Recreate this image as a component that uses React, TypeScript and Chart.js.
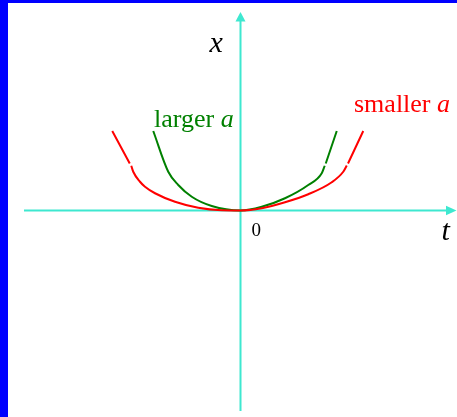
import React, { useEffect, useRef } from "react";
import { Chart, registerables } from "chart.js";

Chart.register(...registerables);

// Time values (t) and displacement (x) for the two curves; null marks a break in the stroke.
const smallerT = [-5.13, -4.43, -4.4, -4.37, -4.29, -4.02, -3.82, -3.42, -2.62, -1.69, -0.75, 0, 0.85, 1.78, 2.71, 3.65, 4.11, 4.25, 4.27, 4.3, 4.91];
const smallerX = [3.18, 1.88, null, 1.79, 1.55, 1.15, 0.95, 0.69, 0.35, 0.11, 0.01, 0, 0.09, 0.33, 0.65, 1.13, 1.55, 1.8, null, 1.88, 3.18];

const largerT = [-3.49, -2.89, -2.49, -1.95, -1.15, 0, 0.85, 1.78, 2.71, 3.25, 3.37, 3.39, 3.41, 3.85];
const largerX = [3.18, 1.55, 1.02, 0.55, 0.18, 0, 0.15, 0.49, 1.02, 1.49, 1.79, null, 1.88, 3.18];

// Plot window and axis extents in data units
const T_MIN = -9.62;
const T_MAX = 8.66;
const X_MIN = -8.26;
const X_MAX = 8.42;
const T_AXIS_FROM = -8.66;
const T_AXIS_TO = 8.64;
const X_AXIS_FROM = -8.02;
const X_AXIS_TO = 7.94;

const AXIS_COLOR = "#3ee8d0";
const SMALLER_COLOR = "#ff0000";
const LARGER_COLOR = "#008000";
const SERIF = '"Liberation Serif", "Times New Roman", serif';

const toPoints = (ts: number[], xs: (number | null)[]) =>
  ts.map((t, i) => ({ x: t, y: xs[i] }));

const figurePlugin = {
  id: "figure",
  beforeDraw(chart: any) {
    const { ctx, width, height } = chart;
    ctx.save();
    ctx.fillStyle = "#ffffff";
    ctx.fillRect(0, 0, width, height);
    ctx.fillStyle = "#0000ff";
    ctx.fillRect(0, 0, 8, height);
    ctx.fillRect(0, 0, width, 3);

    const sx = chart.scales.x;
    const sy = chart.scales.y;
    const ox = sx.getPixelForValue(0);
    const oy = sy.getPixelForValue(0);

    ctx.strokeStyle = AXIS_COLOR;
    ctx.fillStyle = AXIS_COLOR;
    ctx.lineWidth = 2;

    // horizontal t-axis
    const tLeft = sx.getPixelForValue(T_AXIS_FROM);
    const tRight = sx.getPixelForValue(T_AXIS_TO);
    ctx.beginPath();
    ctx.moveTo(tLeft, oy);
    ctx.lineTo(tRight - 8, oy);
    ctx.stroke();
    ctx.beginPath();
    ctx.moveTo(tRight, oy);
    ctx.lineTo(tRight - 10.5, oy - 4.8);
    ctx.lineTo(tRight - 10.5, oy + 4.8);
    ctx.closePath();
    ctx.fill();

    // vertical x-axis
    const xBottom = sy.getPixelForValue(X_AXIS_FROM);
    const xTop = sy.getPixelForValue(X_AXIS_TO);
    ctx.beginPath();
    ctx.moveTo(ox, xBottom);
    ctx.lineTo(ox, xTop + 8);
    ctx.stroke();
    ctx.beginPath();
    ctx.moveTo(ox, xTop);
    ctx.lineTo(ox - 5, xTop + 9.5);
    ctx.lineTo(ox + 5, xTop + 9.5);
    ctx.closePath();
    ctx.fill();
    ctx.restore();
  },
  afterDraw(chart: any) {
    const { ctx } = chart;
    const sx = chart.scales.x;
    const sy = chart.scales.y;
    const ox = sx.getPixelForValue(0);
    const oy = sy.getPixelForValue(0);
    ctx.save();
    ctx.textBaseline = "alphabetic";
    ctx.textAlign = "left";

    // axis names
    ctx.fillStyle = "#000000";
    ctx.font = `italic 30px ${SERIF}`;
    ctx.fillText("x", ox - 31, 52);
    ctx.fillText("t", sx.getPixelForValue(T_AXIS_TO) - 15, oy + 29);
    ctx.font = `19px ${SERIF}`;
    ctx.fillText("0", ox + 11, oy + 25.5);

    // curve labels
    const drawLabel = (plain: string, x: number, y: number, color: string) => {
      ctx.fillStyle = color;
      ctx.font = `26px ${SERIF}`;
      ctx.fillText(plain, x, y);
      const w = ctx.measureText(plain).width;
      ctx.font = `italic 26px ${SERIF}`;
      ctx.fillText("a", x + w, y);
    };
    drawLabel("larger ", 154, 127, LARGER_COLOR);
    drawLabel("smaller ", 354, 112, SMALLER_COLOR);
    ctx.restore();
  },
};

const curveStyle = {
  showLine: true,
  borderWidth: 2,
  pointRadius: 0,
  cubicInterpolationMode: "monotone" as const,
  spanGaps: false,
};

export default function App() {
  const canvasRef = useRef<HTMLCanvasElement | null>(null);

  useEffect(() => {
    const canvas = canvasRef.current;
    if (!canvas) return;
    const chart = new Chart(canvas, {
      type: "scatter",
      data: {
        datasets: [
          {
            label: "smaller a",
            data: toPoints(smallerT, smallerX) as any,
            borderColor: SMALLER_COLOR,
            ...curveStyle,
          },
          {
            label: "larger a",
            data: toPoints(largerT, largerX) as any,
            borderColor: LARGER_COLOR,
            ...curveStyle,
          },
        ],
      },
      options: {
        responsive: false,
        animation: false,
        layout: { padding: 0 },
        plugins: {
          legend: { display: false },
          tooltip: { enabled: false },
        },
        scales: {
          x: { type: "linear", min: T_MIN, max: T_MAX, display: false },
          y: { type: "linear", min: X_MIN, max: X_MAX, display: false },
        },
      },
      plugins: [figurePlugin],
    });
    return () => chart.destroy();
  }, []);

  return (
    <div style={{ position: "fixed", left: 0, top: 0, width: 457, height: 417 }}>
      <canvas ref={canvasRef} width={457} height={417} style={{ display: "block", width: 457, height: 417 }} />
    </div>
  );
}
